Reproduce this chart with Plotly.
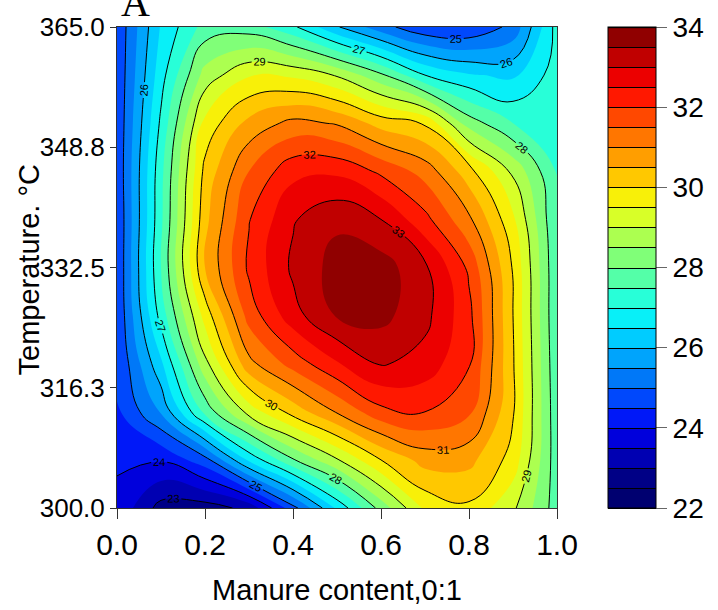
import plotly.graph_objects as go

# Manure content (fraction) and temperature grid
manure = [0.0, 0.1, 0.2, 0.3, 0.4, 0.5, 0.6, 0.7, 0.8, 0.9, 1.0]
temperature = [300.0, 306.5, 313.0, 319.5, 326.0, 332.5, 339.0, 345.5, 352.0, 358.5, 365.0]

# Response values, one row per temperature
z_300_0 = [23.90, 22.80, 22.75, 23.15, 24.80, 26.60, 28.20, 29.60, 29.90, 29.10, 27.75]
z_306_5 = [24.05, 24.05, 24.80, 26.60, 27.95, 28.95, 30.00, 30.70, 30.65, 29.80, 27.70]
z_313_0 = [24.40, 25.55, 27.65, 29.20, 30.20, 31.05, 31.85, 32.00, 31.60, 30.05, 27.65]
z_319_5 = [24.50, 26.40, 28.85, 30.85, 31.70, 32.45, 33.05, 32.80, 32.05, 30.05, 27.60]
z_326_0 = [24.55, 27.20, 29.70, 31.70, 32.80, 33.55, 33.65, 33.15, 32.15, 30.00, 27.55]
z_332_5 = [24.55, 27.50, 30.50, 32.10, 33.10, 33.70, 33.75, 33.10, 31.90, 29.95, 27.55]
z_339_0 = [24.55, 27.40, 30.35, 31.97, 32.95, 33.40, 33.00, 32.15, 31.10, 29.60, 27.50]
z_345_5 = [24.60, 27.35, 30.15, 31.50, 32.35, 32.40, 31.90, 31.30, 30.20, 28.90, 27.45]
z_352_0 = [24.60, 27.10, 29.65, 30.66, 31.15, 30.95, 30.30, 29.95, 28.26, 27.50, 27.35]
z_358_5 = [24.60, 26.80, 28.70, 29.45, 29.40, 28.95, 28.10, 27.00, 26.55, 26.40, 27.25]
z_365_0 = [24.60, 26.55, 27.70, 27.75, 27.10, 26.05, 25.20, 24.60, 24.55, 25.15, 27.20]

z_grid = [z_300_0, z_306_5, z_313_0, z_319_5, z_326_0, z_332_5,
          z_339_0, z_345_5, z_352_0, z_358_5, z_365_0]

# Band colours (22 -> 34, step 0.5)
band_colors = ["#000070", "#00009C", "#0000C8", "#0000F0", "#0030FF", "#0060F8",
               "#0090F8", "#00B8FF", "#00E0FF", "#10FFF0", "#40FFC0", "#68FF90",
               "#98FF60", "#C0FF40", "#F0FF10", "#FFE000", "#FFB000", "#FF8C00",
               "#FF6000", "#FF3000", "#FF0000", "#D80000", "#A80000", "#780000"]

x_ticks = [0.0, 0.2, 0.4, 0.6, 0.8, 1.0]
x_ticktext = ["0.0", "0.2", "0.4", "0.6", "0.8", "1.0"]
y_ticks = [300.0, 316.25, 332.5, 348.75, 365.0]
y_ticktext = ["300.0", "316.3", "332.5", "348.8", "365.0"]
cbar_ticks = [22, 24, 26, 28, 30, 32, 34]

n = len(band_colors)
colorscale = [[0.0, band_colors[0]]]
for k, c in enumerate(band_colors):
    colorscale.append([(k + 1) / n, c])

FONT = "Liberation Sans, Arial, sans-serif"
SMOOTH = 1.3

fig = go.Figure()

# filled bands
fig.add_trace(go.Contour(
    x=manure, y=temperature, z=z_grid,
    colorscale=colorscale, zmin=22, zmax=34,
    contours=dict(start=22, end=34, size=0.5, coloring="fill", showlines=False),
    line=dict(width=0, smoothing=SMOOTH),
    showscale=False, hoverinfo="skip",
))

# integer contour lines with labels
fig.add_trace(go.Contour(
    x=manure, y=temperature, z=z_grid,
    contours=dict(start=23, end=33, size=1, coloring="none", showlabels=True,
                  labelfont=dict(size=11, color="black", family=FONT)),
    line=dict(color="black", width=1, smoothing=SMOOTH),
    showscale=False, hoverinfo="skip",
))

# trace that only provides the banded colour bar (drawn on hidden axes)
fig.add_trace(go.Contour(
    x=manure, y=temperature, z=z_grid, xaxis="x2", yaxis="y2",
    colorscale=colorscale, zmin=22, zmax=34,
    contours=dict(start=22, end=34, size=0.5, coloring="fill", showlines=True),
    line=dict(color="black", width=1),
    hoverinfo="skip",
    colorbar=dict(
        x=(608 - 117) / 440, xanchor="left", xpad=0,
        y=0.5, yanchor="middle", len=1, lenmode="fraction", ypad=0,
        thickness=48, outlinewidth=1, outlinecolor="black",
        tickvals=cbar_ticks, ticks="outside", ticklen=11, tickcolor="#666666",
        tickprefix="\u00a0", tickfont=dict(size=28, color="black", family=FONT),
    ),
))

fig.update_layout(
    width=718, height=610,
    margin=dict(l=117, r=161, t=22, b=102),
    paper_bgcolor="white", plot_bgcolor="white",
    font=dict(family=FONT, color="black"),
    showlegend=False,
    xaxis=dict(range=[0, 1], tickvals=x_ticks, ticktext=x_ticktext,
               ticks="outside", ticklen=10, tickcolor="#333", showline=True,
               linecolor="#333", linewidth=1, mirror=True, showgrid=False, zeroline=False,
               tickfont=dict(size=30)),
    yaxis=dict(range=[300, 365], tickvals=y_ticks, ticktext=y_ticktext,
               ticks="outside", ticklen=6, tickcolor="#333", showline=True,
               linecolor="#333", linewidth=1, mirror=True, showgrid=False, zeroline=False,
               tickfont=dict(size=26)),
    xaxis2=dict(overlaying="x", range=[10, 11], visible=False),
    yaxis2=dict(overlaying="y", range=[1000, 1001], visible=False),
    annotations=[
        dict(text="Manure content,0:1", xref="paper", yref="paper",
             x=0.5, y=(508 - 591) / 486, xanchor="center", yanchor="middle",
             showarrow=False, font=dict(size=29, color="black", family=FONT)),
        dict(text="Temperature. °C", xref="paper", yref="paper",
             x=(29 - 117) / 440, y=(508 - 268) / 486, xanchor="center", yanchor="middle",
             textangle=-90, showarrow=False, font=dict(size=29, color="black", family=FONT)),
        dict(text="A", xref="paper", yref="paper", x=(135 - 117) / 440, y=1.0,
             xanchor="center", yanchor="bottom", showarrow=False,
             font=dict(family="Liberation Serif, Times New Roman, serif", size=40, color="black")),
    ],
)

fig.write_html("out.html")
